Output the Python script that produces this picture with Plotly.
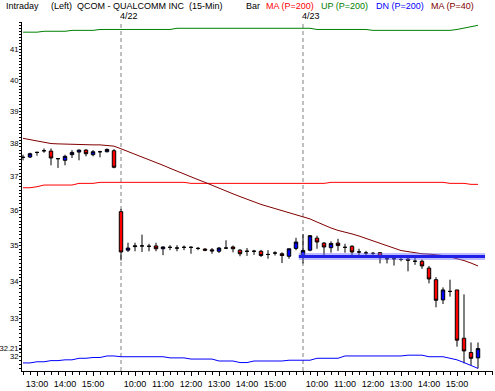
import numpy as np
import plotly.graph_objects as go

# ---------------- data ----------------
bar_index = list(range(66))  # 15-min bars: 4/21 12:30-15:45, 4/22 9:30-15:45, 4/23 9:30-15:45

opens = [37.58, 37.59, 37.73, 37.78, 37.77, 37.54, 37.49, 37.66, 37.74, 37.80, 37.66, 37.75, 37.75, 37.78,
         35.97, 34.87, 34.97, 34.99, 34.98, 34.99, 34.91, 34.95, 34.93, 34.95, 34.95, 34.92, 34.90, 34.88,
         34.84, 34.93, 34.96, 34.87, 34.84, 34.84, 34.84, 34.75, 34.79, 34.77, 34.70, 34.92,
         34.70, 34.87, 35.21, 35.07, 34.94, 35.07, 34.95, 34.98, 34.82, 34.79, 34.78, 34.80, 34.63, 34.63,
         34.61, 34.62, 34.56, 34.56, 34.37, 34.05, 33.50, 33.73, 33.77, 32.48, 32.11, 31.97]
highs = [37.66, 37.72, 37.75, 37.85, 37.85, 37.56, 37.66, 37.80, 37.82, 37.83, 37.80, 37.78, 37.85, 37.83,
         36.05, 35.08, 35.08, 35.31, 35.05, 35.08, 34.98, 35.01, 35.01, 35.00, 34.98, 34.96, 34.93, 34.93,
         34.96, 35.15, 35.00, 34.90, 34.93, 34.88, 34.88, 34.87, 34.84, 34.81, 34.91, 35.22,
         35.32, 35.30, 35.28, 35.10, 35.12, 35.19, 35.05, 35.01, 34.91, 34.85, 34.82, 34.81, 34.68, 34.68,
         34.68, 34.68, 34.68, 34.61, 34.43, 34.12, 33.84, 34.05, 33.77, 33.65, 32.37, 32.37]
lows = [37.49, 37.56, 37.63, 37.72, 37.34, 37.26, 37.34, 37.56, 37.49, 37.61, 37.61, 37.58, 37.73, 37.25,
        34.58, 34.82, 34.84, 34.82, 34.84, 34.84, 34.73, 34.87, 34.84, 34.87, 34.77, 34.87, 34.84, 34.77,
        34.79, 34.90, 34.81, 34.70, 34.71, 34.74, 34.68, 34.63, 34.72, 34.51, 34.63, 34.87,
        34.50, 34.84, 34.91, 34.70, 34.80, 34.85, 34.80, 34.69, 34.69, 34.69, 34.72, 34.50, 34.50, 34.44,
        34.56, 34.28, 34.46, 34.35, 33.95, 33.30, 33.39, 33.59, 32.26, 31.83, 31.78, 31.70]
closes = [37.58, 37.69, 37.73, 37.78, 37.56, 37.54, 37.61, 37.73, 37.80, 37.69, 37.75, 37.75, 37.82, 37.28,
          34.82, 34.93, 34.99, 34.99, 34.98, 34.91, 34.96, 34.95, 34.93, 34.95, 34.95, 34.92, 34.87, 34.85,
          34.93, 34.93, 34.91, 34.77, 34.84, 34.84, 34.72, 34.75, 34.79, 34.72, 34.91, 35.10,
          34.86, 35.28, 35.10, 34.96, 35.06, 35.00, 34.95, 34.82, 34.82, 34.79, 34.78, 34.66, 34.63, 34.63,
          34.61, 34.59, 34.56, 34.43, 34.07, 33.49, 33.77, 33.73, 32.43, 32.15, 31.96, 32.21]

ma200 = [36.67, 36.67, 36.70, 36.75, 36.75, 36.75, 36.75, 36.75, 36.80, 36.80, 36.80,
         36.83, 36.83, 36.83, 36.83, 36.83, 36.83, 36.83, 36.83, 36.83, 36.83, 36.83, 36.83, 36.83,
         36.80, 36.80, 36.80, 36.80, 36.80, 36.80, 36.80, 36.80, 36.80, 36.80, 36.80, 36.80, 36.80,
         36.80, 36.80, 36.80, 36.80, 36.80, 36.80, 36.80,
         36.83, 36.83, 36.83, 36.83, 36.83, 36.83, 36.83, 36.83, 36.83, 36.83, 36.83, 36.83, 36.83,
         36.83, 36.83, 36.83, 36.83, 36.80, 36.80, 36.80, 36.77, 36.77]
up200 = [41.57, 41.57, 41.57, 41.60, 41.60, 41.60, 41.60, 41.63, 41.63, 41.63, 41.63,
         41.66, 41.66, 41.66, 41.66, 41.66, 41.66, 41.66, 41.66, 41.66, 41.66, 41.66,
         41.70, 41.70, 41.70, 41.70, 41.70, 41.70, 41.70, 41.70, 41.70, 41.70, 41.70, 41.70, 41.70,
         41.70, 41.70, 41.70, 41.70, 41.70, 41.70, 41.70,
         41.66, 41.66, 41.66, 41.66, 41.66, 41.66, 41.66, 41.66,
         41.63, 41.63, 41.63, 41.63, 41.63, 41.63, 41.63, 41.63, 41.63, 41.63, 41.63, 41.63,
         41.66, 41.70, 41.74, 41.80]
dn200 = [31.84, 31.84, 31.87, 31.87, 31.90, 31.90, 31.92, 31.92, 31.96, 31.96, 31.98, 31.98, 32.02, 32.02,
         32.00, 32.00, 32.00, 32.00, 32.00, 32.00, 32.00, 31.97, 31.97, 31.97, 31.94, 31.94, 31.94, 31.94,
         31.89, 31.89, 31.89, 31.85, 31.85, 31.89, 31.89, 31.89, 31.89, 31.89, 31.91, 31.91,
         31.91, 31.91, 31.96, 31.96, 31.96, 31.96, 32.02, 32.02, 32.02, 32.02, 32.02, 32.02, 32.02, 32.02,
         32.02, 32.04, 32.04, 32.04, 32.00, 32.00, 32.00, 31.96, 31.92, 31.85, 31.78, 31.70]
ma40 = [38.16, 38.12, 38.07, 38.03, 38.00, 37.99, 37.98, 37.97, 37.96, 37.96, 37.96, 37.96, 37.95, 37.92,
        37.84, 37.76, 37.68, 37.59, 37.50, 37.42, 37.34, 37.25, 37.16, 37.08, 36.99, 36.91, 36.83, 36.74,
        36.66, 36.57, 36.49, 36.41, 36.33, 36.25, 36.18, 36.12, 36.06, 36.00, 35.94, 35.87,
        35.82, 35.76, 35.67, 35.58, 35.50, 35.43, 35.39, 35.33, 35.27, 35.20, 35.13, 35.06, 34.99, 34.91,
        34.86, 34.83, 34.79, 34.77, 34.76, 34.75, 34.72, 34.68, 34.64, 34.58, 34.51, 34.43]

trend_level = 34.69
trend_span = [39.4, 66.0]

day_starts = [14, 40]
day_labels = ["4/22", "4/23"]

xtick_pos = [2, 6, 10, 16, 20, 24, 28, 32, 36, 42, 46, 50, 54, 58, 62]
xtick_text = ["13:00", "14:00", "15:00", "10:00", "11:00", "12:00", "13:00", "14:00", "15:00",
              "10:00", "11:00", "12:00", "13:00", "14:00", "15:00"]
ytick_vals = [32, 32.21, 33, 34, 35, 36, 37, 38, 39, 40, 41]
ytick_text = ["32", "32.21", "33", "34", "35", "36", "37", "38", "39", "40", "41"]

header = [("Intraday", "black", 6), ("(Left)", "black", 51), ("QCOM - QUALCOMM INC  (15-Min)", "black", 77),
          ("Bar", "black", 246), ("MA (P=200)", "#FF0000", 266), ("UP (P=200)", "#008000", 321),
          ("DN (P=200)", "#0000FF", 376), ("MA (P=40)", "#800000", 431)]

# ---------------- figure ----------------
W, H = 495, 391
ML, MR, MT, MB = 22, 2, 22, 20
PW, PH = W - ML - MR, H - MT - MB
FONT = "Liberation Sans, Arial, sans-serif"
PX_PER_BAR = 7.0
FIRST_BAR_PX = 23

fig = go.Figure()

line_specs = [(up200, "#008000"), (dn200, "#0000FF"), (ma200, "#FF0000"), (ma40, "#800000")]
for vals, col in line_specs:
    fig.add_trace(go.Scatter(x=bar_index, y=vals, mode="lines",
                             line=dict(color=col, width=1), hoverinfo="skip", showlegend=False))

fig.add_trace(go.Candlestick(
    x=bar_index, open=opens, high=highs, low=lows, close=closes,
    increasing=dict(fillcolor="#0000FF", line=dict(color="black", width=1)),
    decreasing=dict(fillcolor="#FF0000", line=dict(color="black", width=1)),
    whiskerwidth=0, showlegend=False, hoverinfo="skip"))

# hand-drawn horizontal level (halo + core)
fig.add_trace(go.Scatter(x=trend_span, y=[trend_level, trend_level], mode="lines",
                         line=dict(color="rgba(110,110,255,0.45)", width=7),
                         hoverinfo="skip", showlegend=False))
fig.add_trace(go.Scatter(x=trend_span, y=[trend_level, trend_level], mode="lines",
                         line=dict(color="#2020E8", width=3),
                         hoverinfo="skip", showlegend=False))

for d, lab in zip(day_starts, day_labels):
    fig.add_shape(type="line", xref="x", yref="paper", x0=d, x1=d, y0=0, y1=1,
                  line=dict(color="#808080", width=1, dash="4px,3px"), layer="below")
    fig.add_annotation(x=d, xref="x", y=(H - MB - 16.0) / PH, yref="paper",
                       text=lab, showarrow=False, xanchor="left", yanchor="middle", xshift=-3,
                       font=dict(family=FONT, size=9, color="black"))

for txt, col, px in header:
    fig.add_annotation(x=(px - ML) / PW, xref="paper", y=(H - MB - 5.7) / PH, yref="paper",
                       text=txt, showarrow=False, xanchor="left", yanchor="middle", xshift=-2,
                       font=dict(family=FONT, size=9, color=col))

x_lo = (ML - FIRST_BAR_PX) / PX_PER_BAR
x_hi = x_lo + PW / PX_PER_BAR

ymin, ymax = 31.634, 41.912
minor_y = [round(v, 2) for v in np.arange(31.7, 41.91, 0.1)]

fig.update_layout(
    template="none",
    width=W, height=H,
    margin=dict(l=ML, r=MR, t=MT, b=MB, pad=0),
    paper_bgcolor="white", plot_bgcolor="white",
    font=dict(family=FONT, size=9, color="black"),
    showlegend=False, hovermode=False,
    xaxis=dict(range=[x_lo, x_hi], rangeslider=dict(visible=False), automargin=False,
               tickmode="array", tickvals=xtick_pos, ticktext=xtick_text,
               ticks="outside", ticklen=4, tickcolor="black", tickwidth=1,
               showline=True, linecolor="black", linewidth=1, mirror=False,
               showgrid=False, zeroline=False,
               minor=dict(tickmode="linear", tick0=0, dtick=1, ticks="outside",
                          ticklen=3, tickcolor="black", showgrid=False),
               tickfont=dict(family=FONT, size=9, color="black")),
    yaxis=dict(type="log", range=[np.log10(ymin), np.log10(ymax)], automargin=False,
               tickmode="array", tickvals=ytick_vals, ticktext=ytick_text,
               ticks="outside", ticklen=2, tickcolor="black", tickwidth=1,
               ticklabelstandoff=-1,
               showline=True, linecolor="black", linewidth=1, mirror=False,
               showgrid=False, zeroline=False,
               minor=dict(tickmode="array", tickvals=minor_y, ticks="outside",
                          ticklen=2, tickcolor="black", showgrid=False),
               tickfont=dict(family=FONT, size=7.6, color="black")),
)

fig.write_html("out.html", config={"displayModeBar": False},
               post_script="document.body.style.margin='0';")
